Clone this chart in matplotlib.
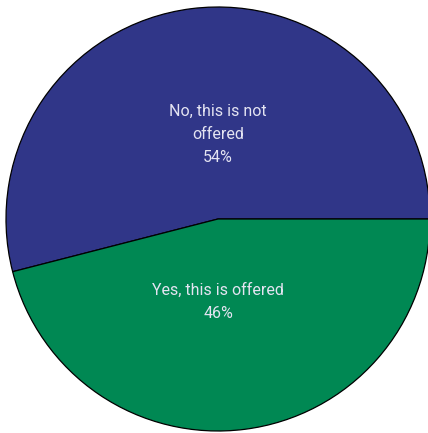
import matplotlib.pyplot as plt

labels = ["No, this is not\noffered", "Yes, this is offered"]
shares = [54, 46]
colors = ["#303688", "#008853"]
label_y = [0.40, -0.39]

fig = plt.figure(figsize=(4.28, 4.33), dpi=100)
# pie centred near (218, 219) px, radius ~212 px
cx, cy, r = 218, 219, 212
ax = fig.add_axes([(cx - r) / 428, (433 - cy - r) / 433, 2 * r / 428, 2 * r / 433])

wedges, _ = ax.pie(shares, colors=colors, startangle=0, counterclock=True,
                   wedgeprops=dict(edgecolor="black", linewidth=0.9))
for l, s, y in zip(labels, shares, label_y):
    ax.text(0, y, f"{l}\n{s}%", ha="center", va="center", multialignment="center",
            color="#e4e4f2", fontsize=11.5, family="Roboto", linespacing=1.68)
ax.set_xlim(-1, 1)
ax.set_ylim(-1, 1)
ax.set_aspect("auto")
ax.axis("off")
fig.savefig("out.png", dpi=100)
